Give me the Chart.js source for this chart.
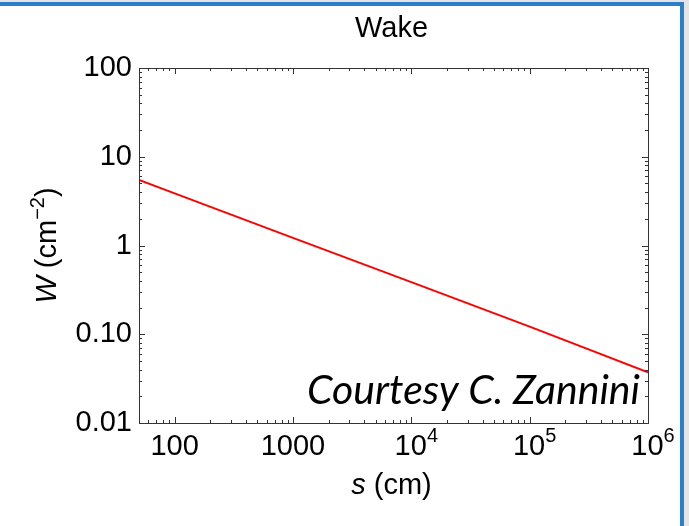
<!DOCTYPE html>
<html>
<head>
<meta charset="utf-8">
<script src="https://cdn.jsdelivr.net/npm/chart.js@4/dist/chart.umd.min.js"></script>
<style>
html,body{margin:0;padding:0;background:#e4e4e4;width:689px;height:526px;overflow:hidden}
#frame{position:absolute;left:0;top:2px;width:680px;height:540px;background:#fff;border-top:4px solid #2b7ec9;border-right:4px solid #2b7ec9}
#wrap{position:absolute;left:0;top:0;width:689px;height:526px}
</style>
</head>
<body>
<div id="frame"></div>
<div id="wrap"><canvas id="wake"></canvas></div>
<script>
// wake function W(s), log-log
var sVals = [50, 100, 1000, 10000, 100000, 1000000];
var wVals = [5.47, 3.87, 1.22, 0.387, 0.122, 0.0373];

var xTicks = [100, 1000, 1e4, 1e5, 1e6];
var xLabels = [['100'], ['1000'], ['10', '4'], ['10', '5'], ['10', '6']];
var yTicks = [0.01, 0.1, 1, 10, 100];
var yLabels = ['0.01', '0.10', '1', '10', '100'];

var FONT = "'Liberation Sans', Arial, sans-serif";
var FS = 29, SUP = 20;

// draw a list of text runs [text, font, dy] starting at x
function runs(ctx, parts, x, y, align) {
    var w = 0;
    parts.forEach(function(p){ctx.font = p[1]; w += ctx.measureText(p[0]).width});
    var cx = align === 'center' ? x - w / 2 : x;
    ctx.textAlign = 'left';
    parts.forEach(function(p){
        ctx.font = p[1];
        ctx.fillText(p[0], cx, y + (p[2] || 0));
        cx += ctx.measureText(p[0]).width;
    });
}

// inward minor/major ticks on all four sides, box, labels and titles
var frame = {
    id: 'frame',
    afterDraw: function(chart) {
        var ctx = chart.ctx, a = chart.chartArea, xs = chart.scales.x, ys = chart.scales.y;
        ctx.save();
        ctx.strokeStyle = '#333';
        ctx.lineWidth = 1;
        ctx.strokeRect(Math.round(a.left) + 0.5, Math.round(a.top) + 0.5, Math.round(a.right - a.left), Math.round(a.bottom - a.top));
        ctx.beginPath();
        var d, m, v, p, len;
        for (d = 1; d <= 6; d++) for (m = 1; m <= 9; m++) {
            v = m * Math.pow(10, d);
            if (v < xs.min || v > xs.max) continue;
            p = Math.round(xs.getPixelForValue(v)) + 0.5;
            len = m === 1 ? 6 : 3;
            ctx.moveTo(p, a.bottom); ctx.lineTo(p, a.bottom - len);
            ctx.moveTo(p, a.top); ctx.lineTo(p, a.top + len);
        }
        for (d = -2; d <= 2; d++) for (m = 1; m <= 9; m++) {
            v = m * Math.pow(10, d);
            if (v < ys.min || v > ys.max) continue;
            p = Math.round(ys.getPixelForValue(v)) + 0.5;
            len = m === 1 ? 6 : 3;
            ctx.moveTo(a.left, p); ctx.lineTo(a.left + len, p);
            ctx.moveTo(a.right, p); ctx.lineTo(a.right - len, p);
        }
        ctx.stroke();

        ctx.fillStyle = '#000';
        ctx.textBaseline = 'alphabetic';
        // x tick labels, powers drawn as superscripts
        xTicks.forEach(function(t, i) {
            var lab = xLabels[i], px = xs.getPixelForValue(t);
            var parts = [[lab[0], FS + 'px ' + FONT, 0]];
            if (lab[1]) parts.push([lab[1], SUP + 'px ' + FONT, -13]);
            runs(ctx, parts, px + (lab[1] ? 5 : 0), a.bottom + 32, 'center');
        });
        var cx = (a.left + a.right) / 2;
        runs(ctx, [['Wake', FS + 'px ' + FONT, 0]], cx - 2, 37, 'center');
        runs(ctx, [['s', 'italic ' + FS + 'px ' + FONT, 0], [' (cm)', FS + 'px ' + FONT, 0]], cx - 2, 494, 'center');

        ctx.save();
        ctx.translate(56, (a.top + a.bottom) / 2);
        ctx.rotate(-Math.PI / 2);
        runs(ctx, [['W', 'italic ' + FS + 'px ' + FONT, 0], [' (cm', FS + 'px ' + FONT, 0],
                   ['\u22122', SUP + 'px ' + FONT, -12], [')', FS + 'px ' + FONT, 0]], 0, 0, 'center');
        ctx.restore();

        // credit line, sized to its box width
        var txt = 'Courtesy C. Zannini', f = 36;
        ctx.font = 'italic ' + f + "px Lato, 'Open Sans', sans-serif";
        f = f * 333 / ctx.measureText(txt).width;
        ctx.font = 'italic ' + f + "px Lato, 'Open Sans', sans-serif";
        ctx.textAlign = 'right';
        ctx.fillText(txt, 640, 404);
        ctx.restore();
    }
};

var pts = sVals.map(function(s, i){return {x: s, y: wVals[i]}});

new Chart(document.getElementById('wake'), {
    type: 'line',
    data: {datasets: [{data: pts, borderColor: '#ff0000', borderWidth: 2, pointRadius: 0, tension: 0, fill: false}]},
    options: {
        responsive: true, maintainAspectRatio: false, animation: false, devicePixelRatio: 1,
        layout: {padding: {top: 68, right: 41, left: 0, bottom: 0}},
        plugins: {legend: {display: false}, tooltip: {enabled: false}},
        scales: {
            x: {
                type: 'logarithmic', min: 50, max: 1e6,
                grid: {display: false}, border: {display: false},
                ticks: {display: false},
                afterBuildTicks: function(s){s.ticks = xTicks.map(function(v){return {value: v}})},
                afterFit: function(s){s.height = 103}
            },
            y: {
                type: 'logarithmic', min: 0.01, max: 100,
                grid: {display: false, drawTicks: false}, border: {display: false},
                ticks: {
                    color: '#000', padding: 7, font: {family: FONT, size: FS},
                    callback: function(v){var i = yTicks.indexOf(v); return i < 0 ? '' : yLabels[i]}
                },
                afterBuildTicks: function(s){s.ticks = yTicks.map(function(v){return {value: v}})},
                afterFit: function(s){s.width = 139}
            }
        }
    },
    plugins: [frame]
});
</script>
</body>
</html>
